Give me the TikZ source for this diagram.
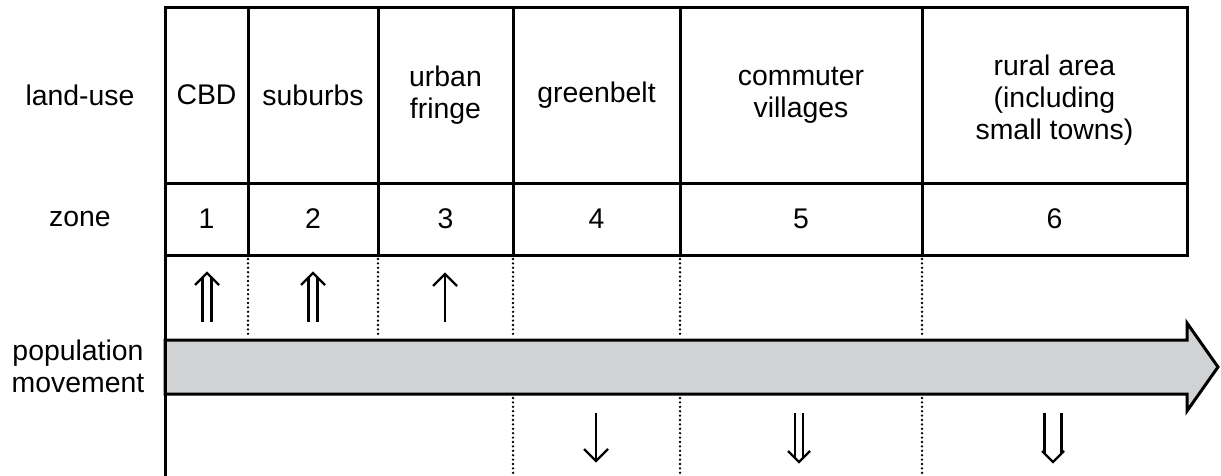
\documentclass[tikz,border=0pt]{standalone}
\usepackage{fontspec}
\setmainfont{Liberation Sans}
\usetikzlibrary{positioning}
\definecolor{bandgray}{RGB}{209,210,212}

\begin{document}
\begin{tikzpicture}[x=0.5pt,y=-0.5pt,
	txtnode/.style={inner sep=0pt,align=center,font=\fontsize{14.2}{16}\selectfont},
	gridline/.style={line width=1.5pt},
	dotline/.style={line width=1.3pt,line cap=round,dash pattern=on 0pt off 2.2pt},
	glyph/.style={line width=1.2pt,line join=miter}]
	
	\useasboundingbox (0,0) rectangle (1221,476);
	
	% population movement band
	\draw[gridline,fill=bandgray] (165,340) -- (1187,340) -- (1187,323) -- (1218,367)
		-- (1187,411) -- (1187,394) -- (165,394) -- cycle;
	
	% table
	\draw[gridline] (165,8) rectangle (1187,255);
	\draw[gridline] (165,183) -- (1187,183);
	\draw[gridline] (165,255) -- (165,476);
	\foreach \x in {248,378,513,680,922}
		\draw[gridline] (\x,8) -- (\x,255);
	\foreach \x in {248,378,513,680,922}
		\draw[dotline] (\x,259) -- (\x,336);
	\foreach \x in {513,680,922}
		\draw[dotline] (\x,398) -- (\x,476);
	
	% row labels
	\node [txtnode] (landuse) at (80,95) {land-use};
	\node [txtnode] (zone) at (80,219) {zone};
	\node [txtnode] (popmove) at (78,366) {population\\movement};
	
	% land-use
	\node [txtnode] (lu1) at (206.5,95) {CBD};
	\node [txtnode] (lu2) at (313,95) {suburbs};
	\node [txtnode] (lu3) at (445.5,95) {urban\\fringe};
	\node [txtnode] (lu4) at (596.5,95) {greenbelt};
	\node [txtnode] (lu5) at (801,95) {commuter\\villages};
	\node [txtnode] (lu6) at (1054.5,100) {rural area\\(including\\small towns)};
	
	% zones
	\node [txtnode] (z1) at (206.5,219) {1};
	\node [txtnode] (z2) at (313,219) {2};
	\node [txtnode] (z3) at (445.5,219) {3};
	\node [txtnode] (z4) at (596.5,219) {4};
	\node [txtnode] (z5) at (801,219) {5};
	\node [txtnode] (z6) at (1054.5,219) {6};
	
	% arrows in
	\foreach \c in {207,313} {
		\draw[glyph] (\c-4.5,322) -- (\c-4.5,278);
		\draw[glyph] (\c+4.5,322) -- (\c+4.5,278);
		\draw[glyph] (\c-12,285) -- (\c,273) -- (\c+12,285);
	}
	\draw[glyph] (445,322) -- (445,274);
	\draw[glyph] (433,286) -- (445,274) -- (457,286);
	
	% arrows out
	\draw[glyph] (596,413) -- (596,461);
	\draw[glyph] (584,449) -- (596,461) -- (608,449);
	\draw[glyph] (795,413) -- (795,458);
	\draw[glyph] (803,413) -- (803,458);
	\draw[glyph] (788,451) -- (799,462) -- (810,451);
	\draw[glyph] (1044.5,413) -- (1044.5,453);
	\draw[glyph] (1061.5,413) -- (1061.5,453);
	\draw[glyph] (1042,451) -- (1053,462) -- (1064,451);
\end{tikzpicture}
\end{document}
